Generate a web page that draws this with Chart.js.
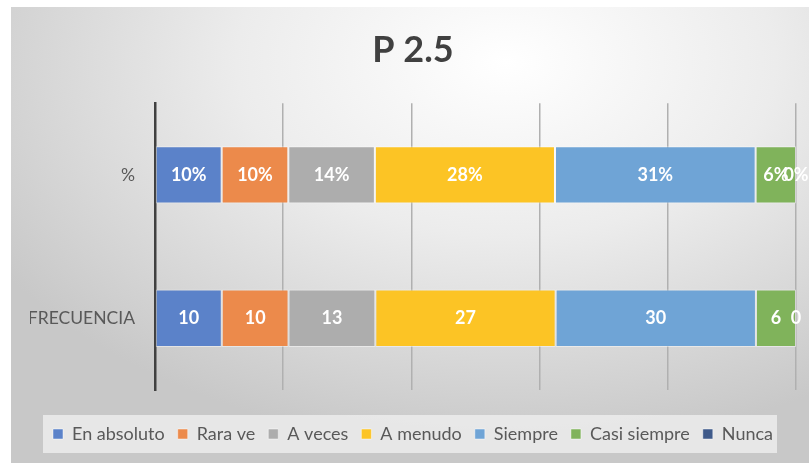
<!DOCTYPE html>
<html>
<head>
<meta charset="utf-8">
<script src="https://cdn.jsdelivr.net/npm/chart.js@4/dist/chart.umd.min.js"></script>
<style>
html, body { margin: 0; padding: 0; background: #fff; }
#frame {
  position: absolute; left: 11px; top: 7px; width: 798px; height: 456px;
  background: radial-gradient(ellipse 75% 85% at 62% 12%, #ffffff 0%, #ececec 45%, #c8c8c8 100%);
}
#wrap { position: absolute; left: 0; top: 0; width: 809px; height: 463px; }
</style>
</head>
<body>
<div id="frame"></div>
<div id="wrap"><canvas id="myChart"></canvas></div>
<script>
let categories = ['%', 'FRECUENCIA'];
let seriesNames = ['En absoluto', 'Rara ve', 'A veces', 'A menudo', 'Siempre', 'Casi siempre', 'Nunca'];
let pctValues = [10.4, 10.4, 13.5, 28.1, 31.3, 6.3, 0];
let freqValues = [10, 10, 13, 27, 30, 6, 0];
let xTicks = [0, 20, 40, 60, 80, 100];
let seriesColors = ['#5b82c9', '#ec8a4b', '#adadad', '#fcc425', '#6fa4d6', '#80b35b', '#3f5a8a'];

// 100% stacked: each row is scaled to its own total
let pctTotal = pctValues.reduce((a, b) => a + b, 0);
let freqTotal = freqValues.reduce((a, b) => a + b, 0);

let datasets = [];
for (let i = 0; i < seriesNames.length; i++) {
  datasets.push({
    label: seriesNames[i],
    data: [pctValues[i] / pctTotal * 100, freqValues[i] / freqTotal * 100],
    backgroundColor: seriesColors[i],
    borderColor: 'rgba(255,255,255,0.45)',
    borderWidth: 1,
    borderSkipped: false
  });
}

function labelText(row, i) {
  if (row === 0) return Math.round(pctValues[i]) + '%';
  return String(freqValues[i]);
}

const FONT = 'Lato, Carlito, Calibri, sans-serif';

const legendBox = {
  id: 'legendBox',
  beforeDraw(chart) {
    const boxes = chart.legend.legendHitBoxes;
    if (!boxes || !boxes.length) return;
    const first = boxes[0], last = boxes[boxes.length - 1];
    const cy = first.top + first.height / 2;
    const ctx = chart.ctx;
    ctx.save();
    ctx.fillStyle = 'rgba(236,236,236,0.85)';
    ctx.fillRect(first.left - 10, cy - 19, last.left + last.width - first.left + 14, 38);
    ctx.restore();
  }
};

const barLabels = {
  id: 'barLabels',
  afterDatasetsDraw(chart) {
    const ctx = chart.ctx;
    ctx.save();
    ctx.fillStyle = '#ffffff';
    ctx.font = 'bold 18px ' + FONT;
    ctx.textAlign = 'center';
    ctx.textBaseline = 'middle';
    chart.data.datasets.forEach((ds, i) => {
      const meta = chart.getDatasetMeta(i);
      meta.data.forEach((bar, row) => {
        const x = (bar.x + bar.base) / 2;
        ctx.fillText(labelText(row, i), x, bar.y);
      });
    });
    ctx.restore();
  }
};

const ctx = document.getElementById('myChart').getContext('2d');
const myChart = new Chart(ctx, {
  type: 'bar',
  data: {
    labels: categories,
    datasets: datasets
  },
  plugins: [legendBox, barLabels],
  options: {
    indexAxis: 'y',
    responsive: true,
    maintainAspectRatio: false,
    animation: false,
    layout: { padding: { left: 30, right: 13, top: 7, bottom: 10 } },
    datasets: { bar: { barPercentage: 0.4, categoryPercentage: 1 } },
    scales: {
      x: {
        stacked: true,
        min: 0,
        max: 100,
        afterBuildTicks: (scale) => { scale.ticks = xTicks.map(v => ({ value: v })); },
        ticks: { display: false },
        grid: { color: '#b0b0b0', lineWidth: 1.5, drawTicks: false },
        border: { display: false },
        afterFit: (scale) => { scale.height = 22; }
      },
      y: {
        stacked: true,
        grid: { display: false, drawTicks: false },
        border: { display: true, color: '#404040', width: 2.5 },
        ticks: { color: '#595959', font: { family: FONT, size: 17.5 }, padding: 20 },
        afterFit: (scale) => { scale.width = 125; }
      }
    },
    plugins: {
      title: {
        display: true,
        text: 'P 2.5',
        color: '#404040',
        font: { family: FONT, size: 36, weight: 'bold' },
        padding: { top: 22, bottom: 31 }
      },
      legend: {
        position: 'bottom',
        labels: {
          color: '#595959',
          font: { family: FONT, size: 18 },
          boxWidth: 10,
          boxHeight: 10,
          padding: 13
        }
      },
      tooltip: { enabled: false }
    }
  }
});
</script>
</body>
</html>
